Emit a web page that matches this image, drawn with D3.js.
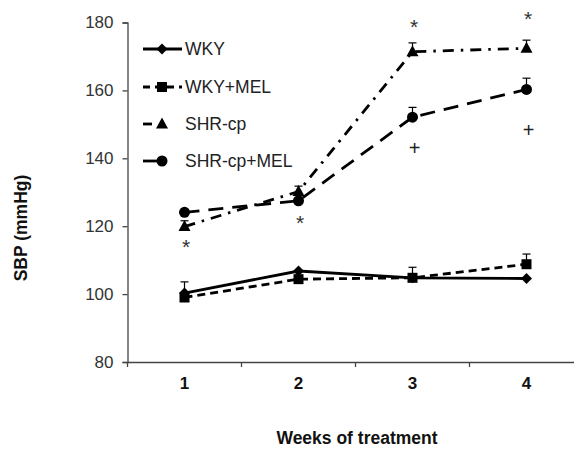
<!DOCTYPE html>
<html><head><meta charset="utf-8">
<script src="https://cdn.jsdelivr.net/npm/d3@7"></script>
<style>html,body{margin:0;padding:0;background:#fff;}svg{display:block;font-family:Arial,"Liberation Sans",sans-serif;}</style>
</head><body>
<svg id="c" width="574" height="450"></svg>
<script>
const weeks = ["1", "2", "3", "4"];
const seriesNames = ["WKY", "WKY+MEL", "SHR-cp", "SHR-cp+MEL"];
const wky = [100.3, 106.8, 104.8, 104.6];
const wkyMel = [99.0, 104.4, 104.8, 108.8];
const shr = [119.9, 130.2, 171.4, 172.4];
const shrMel = [124.1, 127.5, 152.1, 160.3];
const wkyErr = [3.3, 0, 0, 0];
const wkyMelErr = [0, 0, 3.1, 3.0];
const shrErr = [1.7, 1.6, 2.6, 2.4];
const shrMelErr = [0, 0, 2.9, 3.3];
const yTicks = [80, 100, 120, 140, 160, 180];
const starMarks = [{w: "1", v: 114.2}, {w: "2", v: 121.1}, {w: "3", v: 179.0}, {w: "4", v: 181.3}];
const plusMarks = [{w: "3", v: 143.0}, {w: "4", v: 148.3}];

const svg = d3.select("#c");
const x = d3.scaleBand().domain(weeks).range([127.5, 583.5]);
const y = d3.scaleLinear().domain([80, 180]).range([362, 22.5]);
const cx = w => x(w) + x.bandwidth() / 2;

const series = [
  {name: seriesNames[0], vals: wky, err: wkyErr, dash: null, sym: "diamond"},
  {name: seriesNames[1], vals: wkyMel, err: wkyMelErr, dash: "8,5", sym: "square"},
  {name: seriesNames[2], vals: shr, err: shrErr, dash: "11,7,2.5,7", sym: "triangle"},
  {name: seriesNames[3], vals: shrMel, err: shrMelErr, dash: "15,9", sym: "circle"}
];

// axes
const gy = svg.append("g").attr("transform", "translate(127.5,0)")
  .call(d3.axisLeft(y).tickValues(yTicks).tickSize(5).tickPadding(9));
gy.select(".domain").attr("stroke", "#444").attr("stroke-width", 1.3);
gy.selectAll(".tick line").attr("stroke", "#444").attr("stroke-width", 1.3);
gy.selectAll(".tick text").attr("font-size", 17).attr("fill", "#333").attr("font-family", "Arial, 'Liberation Sans', sans-serif");

const gx = svg.append("g").attr("transform", "translate(0,362)")
  .call(d3.axisBottom(x).tickSize(0).tickPadding(15));
gx.select(".domain").attr("stroke", "#444").attr("stroke-width", 1.3);
gx.selectAll(".tick text").attr("font-size", 17).attr("font-weight", "bold").attr("fill", "#111").attr("font-family", "Arial, 'Liberation Sans', sans-serif");
// boundary ticks between categories
const bounds = weeks.map(w => x(w));
svg.append("g").selectAll("line").data(bounds).join("line")
  .attr("x1", d => d).attr("x2", d => d).attr("y1", 362).attr("y2", 367)
  .attr("stroke", "#444").attr("stroke-width", 1.3);

// axis titles
svg.append("text").attr("x", 357).attr("y", 444).attr("text-anchor", "middle")
  .attr("font-size", 17.5).attr("font-weight", "bold").attr("fill", "#111").text("Weeks of treatment");
svg.append("text").attr("transform", "translate(27,228) rotate(-90)").attr("text-anchor", "middle")
  .attr("font-size", 17.5).attr("font-weight", "bold").attr("fill", "#111").text("SBP (mmHg)");

function drawSym(g, sym, px, py) {
  if (sym === "diamond") {
    g.append("path").attr("d", `M${px},${py-5.5}L${px+5.5},${py}L${px},${py+5.5}L${px-5.5},${py}Z`).attr("fill", "#000");
  } else if (sym === "square") {
    g.append("rect").attr("x", px - 5).attr("y", py - 5).attr("width", 10).attr("height", 10).attr("fill", "#000");
  } else if (sym === "triangle") {
    g.append("path").attr("d", `M${px},${py-6.5}L${px+6},${py+4.5}L${px-6},${py+4.5}Z`).attr("fill", "#000");
  } else {
    g.append("circle").attr("cx", px).attr("cy", py).attr("r", 5.5).attr("fill", "#000");
  }
}

const line = d3.line().x(d => cx(d.w)).y(d => y(d.v));
series.forEach(s => {
  const pts = weeks.map((w, i) => ({w, v: s.vals[i], e: s.err[i]}));
  const g = svg.append("g");
  // error bars (upper only)
  pts.filter(p => p.e > 0).forEach(p => {
    g.append("line").attr("x1", cx(p.w)).attr("x2", cx(p.w)).attr("y1", y(p.v)).attr("y2", y(p.v + p.e)).attr("stroke", "#000").attr("stroke-width", 1.2);
    g.append("line").attr("x1", cx(p.w) - 4).attr("x2", cx(p.w) + 4).attr("y1", y(p.v + p.e)).attr("y2", y(p.v + p.e)).attr("stroke", "#000").attr("stroke-width", 1.2);
  });
  g.append("path").attr("d", line(pts)).attr("fill", "none").attr("stroke", "#000")
    .attr("stroke-width", 2.8).attr("stroke-dasharray", s.dash);
  pts.forEach(p => drawSym(g, s.sym, cx(p.w), y(p.v)));
});

// annotations
svg.append("g").selectAll("text").data(starMarks).join("text")
  .attr("x", d => cx(d.w) + 1.5).attr("y", d => y(d.v) + 8).attr("text-anchor", "middle")
  .attr("font-size", 21).attr("fill", "#333").text("*");
svg.append("g").selectAll("text").data(plusMarks).join("text")
  .attr("x", d => cx(d.w) + 2).attr("y", d => y(d.v) + 7).attr("text-anchor", "middle")
  .attr("font-size", 20).attr("fill", "#222").text("+");

// legend
const legY = [49, 87, 124, 161];
series.forEach((s, i) => {
  const g = svg.append("g");
  const ly = legY[i];
  let x1 = 143, x2 = 182;
  if (s.sym === "triangle") x2 = 163;
  if (s.sym === "circle") x2 = 162;
  g.append("line").attr("x1", x1).attr("x2", x2).attr("y1", ly).attr("y2", ly)
    .attr("stroke", "#000").attr("stroke-width", 2.8)
    .attr("stroke-dasharray", s.sym === "square" ? "7,5" : (s.sym === "triangle" ? "9,20" : null));
  drawSym(g, s.sym, 162, ly);
  g.append("text").attr("x", 185).attr("y", ly).attr("dominant-baseline", "central")
    .attr("font-size", 17.5).attr("fill", "#222").text(s.name);
});
</script>
</body></html>
